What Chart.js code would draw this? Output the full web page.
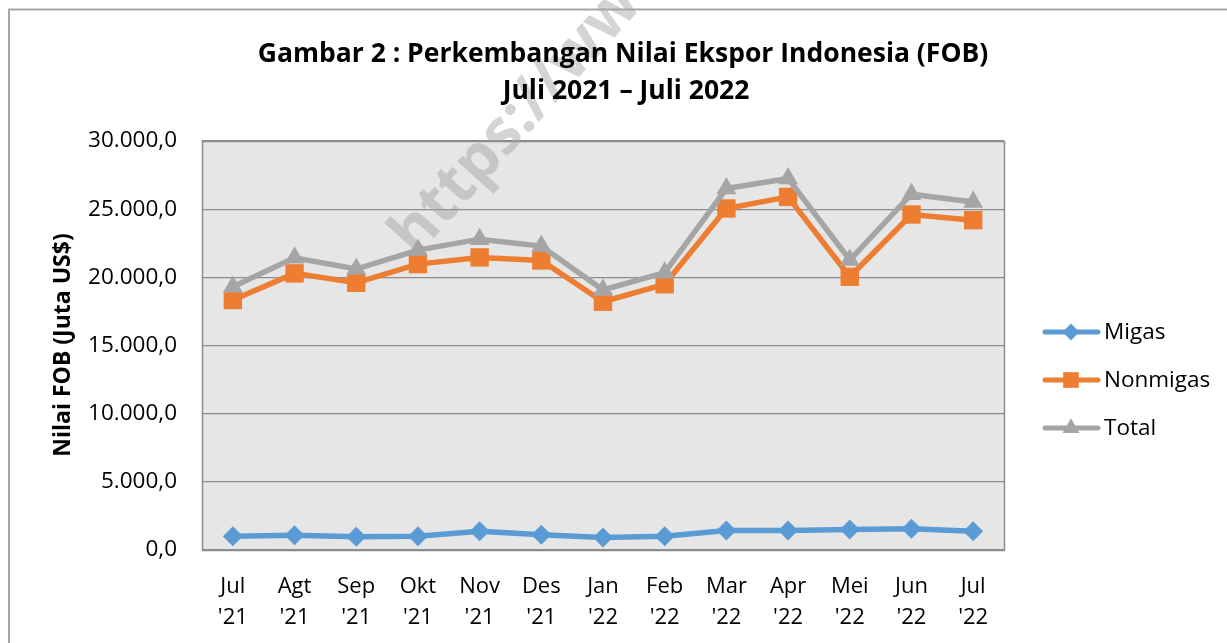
<!DOCTYPE html>
<html><head><meta charset="utf-8">
<script src="https://cdn.jsdelivr.net/npm/chart.js@4/dist/chart.umd.min.js"></script>
<style>html,body{margin:0;padding:0;background:#fff;overflow:hidden}#wrap{width:1227px;height:643px;position:relative}</style>
</head><body><div id="wrap"><canvas id="c" width="1227" height="643"></canvas></div>
<script>
const categories = [["Jul","'21"],["Agt","'21"],["Sep","'21"],["Okt","'21"],["Nov","'21"],["Des","'21"],["Jan","'22"],["Feb","'22"],["Mar","'22"],["Apr","'22"],["Mei","'22"],["Jun","'22"],["Jul","'22"]];
const migas    = [1010, 1080, 970, 1010, 1380, 1110, 915, 1010, 1430, 1430, 1500, 1550, 1380];
const nonmigas = [18340, 20290, 19600, 20970, 21460, 21240, 18210, 19490, 25050, 25900, 20040, 24610, 24190];
const total    = [19310, 21430, 20610, 22000, 22800, 22290, 19070, 20340, 26510, 27250, 21270, 26100, 25530];
const seriesNames = ["Migas", "Nonmigas", "Total"];
const yMin = 0, yMax = 30000, yStep = 5000;
const titleLines = ["Gambar 2 : Perkembangan Nilai Ekspor Indonesia (FOB)", "Juli 2021 \u2013 Juli 2022"];
const yAxisTitle = "Nilai FOB (Juta US$)";
const watermark = "https://www.bps.go.id";

const COLORS = ["#5B9BD5", "#ED7D31", "#A5A5A5"];
const STYLES = ["rectRot", "rect", "triangle"];
const RADII = [10, 13, 11.5];
const FONT = "'Open Sans', 'Noto Sans', sans-serif";

function fmt(v) {
  const s = Number(v).toFixed(1).split(".");
  return s[0].replace(/\B(?=(\d{3})+(?!\d))/g, ".") + "," + s[1];
}

function drawMarker(ctx, style, r, x, y, color) {
  ctx.save();
  ctx.fillStyle = color;
  ctx.beginPath();
  if (style === "rectRot") {
    ctx.moveTo(x, y - r); ctx.lineTo(x + r, y); ctx.lineTo(x, y + r); ctx.lineTo(x - r, y);
  } else if (style === "rect") {
    const h = r * Math.SQRT1_2;
    ctx.rect(x - h, y - h, 2 * h, 2 * h);
  } else {
    ctx.moveTo(x, y - r);
    ctx.lineTo(x + r * 0.866, y + r * 0.5);
    ctx.lineTo(x - r * 0.866, y + r * 0.5);
  }
  ctx.closePath();
  ctx.fill();
  ctx.restore();
}

const deco = {
  id: "deco",
  beforeDraw(chart) {
    const ctx = chart.ctx, a = chart.chartArea;
    ctx.save();
    ctx.fillStyle = "#fff";
    ctx.fillRect(0, 0, chart.width, chart.height);
    ctx.strokeStyle = "#a6a6a6";
    ctx.lineWidth = 2;
    ctx.strokeRect(9, 9.5, chart.width + 20, chart.height + 20);
    ctx.fillStyle = "#e6e6e6";
    ctx.fillRect(a.left, a.top, a.right - a.left, a.bottom - a.top);
    ctx.restore();
  },
  beforeDatasetsDraw(chart) {
    const ctx = chart.ctx, a = chart.chartArea;
    ctx.save();
    ctx.strokeStyle = "#8c8c8c";
    ctx.lineWidth = 1.5;
    ctx.strokeRect(a.left + 0.5, a.top + 0.5, a.right - a.left, a.bottom - a.top);
    ctx.restore();
    ctx.save();
    ctx.translate(416, 258);
    ctx.rotate(-48 * Math.PI / 180);
    ctx.font = "bold 62px " + FONT;
    ctx.fillStyle = "rgba(160,160,160,0.45)";
    ctx.textBaseline = "alphabetic";
    ctx.fillText(watermark, 0, 0);
    ctx.restore();
  },
  afterDraw(chart) {
    const ctx = chart.ctx;
    ctx.save();
    ctx.fillStyle = "#000";
    ctx.textAlign = "center";
    ctx.textBaseline = "alphabetic";
    ctx.font = "bold 26.5px " + FONT;
    ctx.fillText(titleLines[0], 623, 62);
    ctx.fillText(titleLines[1], 626, 99);
    ctx.save();
    ctx.translate(70, 345);
    ctx.rotate(-Math.PI / 2);
    ctx.font = "bold 23px " + FONT;
    ctx.fillText(yAxisTitle, 0, 0);
    ctx.restore();
    const ly = [332, 380, 428];
    ctx.font = "22.5px " + FONT;
    ctx.textAlign = "left";
    ctx.textBaseline = "middle";
    for (let i = 0; i < 3; i++) {
      ctx.strokeStyle = COLORS[i];
      ctx.lineWidth = 5;
      ctx.lineCap = "round";
      ctx.beginPath();
      ctx.moveTo(1045, ly[i]); ctx.lineTo(1098, ly[i]);
      ctx.stroke();
      drawMarker(ctx, STYLES[i], RADII[i] * 0.85, 1071, ly[i], COLORS[i]);
      ctx.fillStyle = "#000";
      ctx.fillText(seriesNames[i], 1104, ly[i] + 1);
    }
    ctx.restore();
  }
};

const seriesData = [migas, nonmigas, total];
new Chart(document.getElementById("c"), {
  type: "line",
  data: {
    labels: categories,
    datasets: seriesData.map((d, i) => ({
      label: seriesNames[i],
      data: d,
      borderColor: COLORS[i],
      backgroundColor: COLORS[i],
      borderWidth: 5.5,
      tension: 0,
      pointStyle: STYLES[i],
      pointRadius: RADII[i],
      pointBorderWidth: 0,
      pointBackgroundColor: COLORS[i],
      order: 2 - i
    }))
  },
  options: {
    responsive: false,
    animation: false,
    devicePixelRatio: 1,
    layout: { padding: { top: 141, right: 223, left: 0, bottom: 0 } },
    plugins: { legend: { display: false }, title: { display: false }, tooltip: { enabled: false } },
    scales: {
      x: {
        offset: true,
        grid: { display: false, offset: true },
        border: { display: false },
        ticks: { color: "#000", font: { size: 22, family: FONT, lineHeight: 1.43 }, maxRotation: 0, autoSkip: false, padding: 13 },
        afterFit(s) { s.height = 93; }
      },
      y: {
        min: yMin, max: yMax,
        grid: { color: "#8c8c8c", lineWidth: 1.2, drawTicks: false },
        border: { display: false },
        ticks: { stepSize: yStep, color: "#000", font: { size: 22.5, family: FONT }, padding: 25, callback: v => fmt(v) },
        afterFit(s) { s.width = 202; }
      }
    }
  },
  plugins: [deco]
});
</script>
</body></html>
